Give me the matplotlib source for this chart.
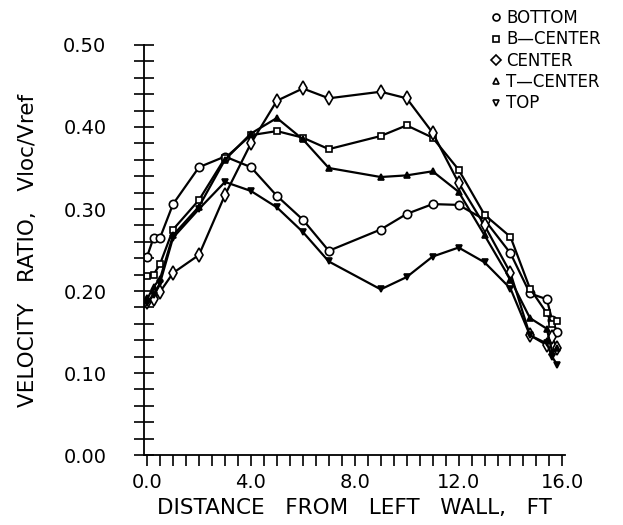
import matplotlib
matplotlib.use('Agg')
import matplotlib.pyplot as plt
from matplotlib.lines import Line2D
from matplotlib.ticker import MultipleLocator, FormatStrFormatter

# positions across the channel, ft
x_pos = [0.0, 0.25, 0.5, 1.0, 2.0, 3.0, 4.0, 5.0, 6.0, 7.0, 9.0, 10.0, 11.0, 12.0, 13.0, 14.0,
         14.75, 15.4, 15.6, 15.8]

bottom = [0.242, 0.265, 0.265, 0.306, 0.351, 0.364, 0.351, 0.316, 0.287, 0.249, 0.275, 0.294,
          0.306, 0.305, 0.287, 0.246, 0.197, 0.190, 0.165, 0.150]
b_center = [0.218, 0.220, 0.233, 0.275, 0.311, 0.362, 0.390, 0.395, 0.387, 0.373, 0.389, 0.402,
            0.387, 0.348, 0.293, 0.266, 0.203, 0.173, 0.160, 0.163]
center = [0.187, 0.190, 0.199, 0.222, 0.244, 0.317, 0.380, 0.432, 0.447, 0.435, 0.443, 0.435,
          0.393, 0.332, 0.280, 0.222, 0.146, 0.134, 0.144, 0.130]
t_center = [0.190, 0.205, 0.215, 0.268, 0.303, 0.360, 0.392, 0.411, 0.385, 0.350, 0.339, 0.341,
            0.346, 0.321, 0.268, 0.214, 0.167, 0.154, 0.126, 0.130]
top = [0.185, 0.195, 0.210, 0.265, 0.300, 0.333, 0.322, 0.302, 0.272, 0.236, 0.202, 0.217,
       0.242, 0.253, 0.235, 0.203, 0.146, 0.136, 0.120, 0.110]

labels = ['BOTTOM', 'B\u2014CENTER', 'CENTER', 'T\u2014CENTER', 'TOP']
markers = ['o', 's', 'D', '^', 'v']

fig = plt.figure(figsize=(6.23, 5.25), dpi=100)
ax = fig.add_axes([0.2311, 0.1333, 0.6758, 0.781])

series = [bottom, b_center, center, t_center, top]
styles = [
    dict(marker='o', ms=6, mfc='white'),
    dict(marker='s', ms=4.5, mfc='white'),
    dict(marker='d', ms=7, mfc='white'),
    dict(marker='^', ms=5, mfc='black'),
    dict(marker='v', ms=5, mfc='black'),
]
for vals, st in zip(series, styles):
    ax.plot(x_pos, vals, color='black', lw=1.6, mec='black', mew=1.2, **st)

ax.set_xlim(-0.12, 16.1)
ax.set_ylim(0.0, 0.5)
for s in ['top', 'right']:
    ax.spines[s].set_visible(False)
ax.spines['left'].set_linewidth(1.3)
ax.spines['bottom'].set_linewidth(1.3)

ax.xaxis.set_major_locator(MultipleLocator(4.0))
ax.xaxis.set_minor_locator(MultipleLocator(0.5))
ax.xaxis.set_major_formatter(FormatStrFormatter('%.1f'))
ax.yaxis.set_major_locator(MultipleLocator(0.1))
ax.yaxis.set_minor_locator(MultipleLocator(0.02))
ax.yaxis.set_major_formatter(FormatStrFormatter('%.2f'))

ax.tick_params(axis='x', which='both', direction='out', length=8, width=1.2, labelsize=14, pad=5)
ax.tick_params(axis='y', which='both', direction='inout', length=14, width=1.2, labelsize=14, pad=20)

ax.set_xlabel('DISTANCE   FROM   LEFT   WALL,   FT', fontsize=15.5, labelpad=4)
ax.set_ylabel('VELOCITY   RATIO,   Vloc/Vref', fontsize=15.5, labelpad=18)

handles = [Line2D([], [], ls='none', marker=m, ms=5, mfc='white', mec='black', mew=1.2)
           for m in markers]
fig.legend(handles, labels, loc='upper left', bbox_to_anchor=(0.77, 1.005), frameon=False,
           fontsize=12, handlelength=0.6, handletextpad=0.3, labelspacing=0.2, borderpad=0.2)

plt.savefig('out.png', dpi=100)
